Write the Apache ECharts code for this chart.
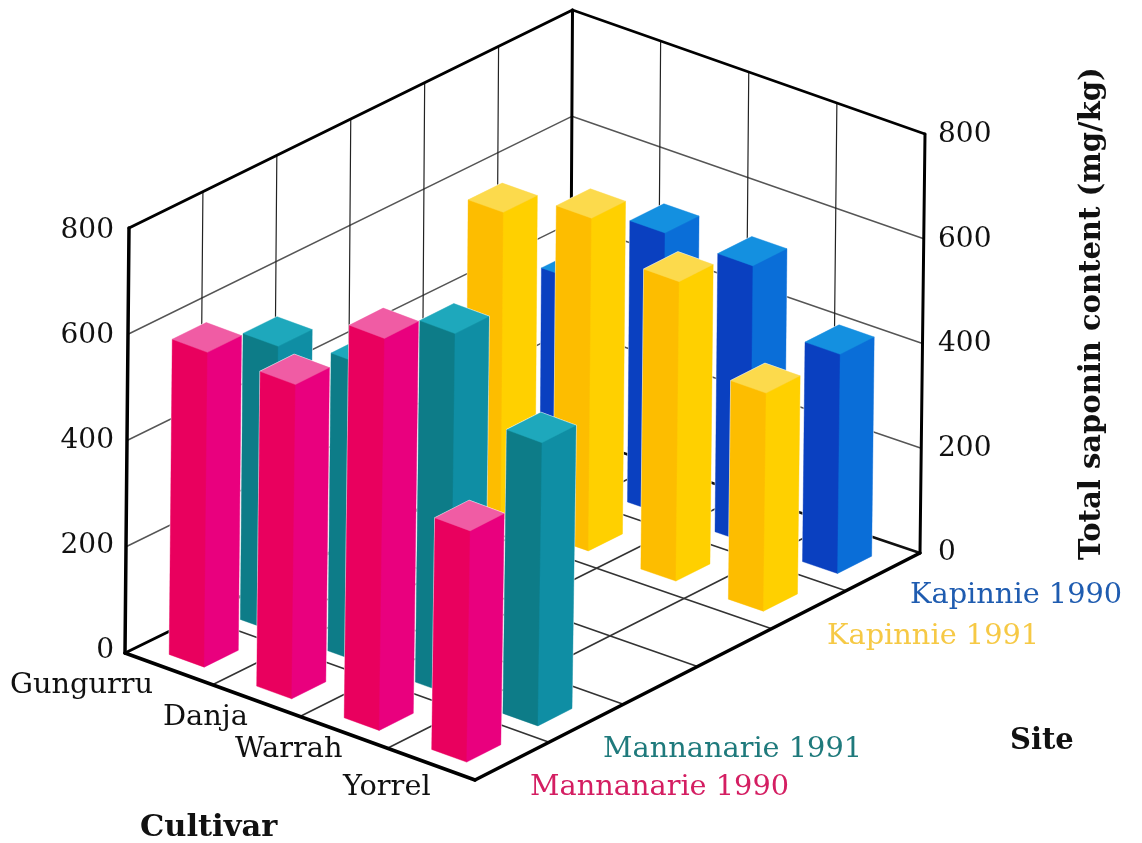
<!DOCTYPE html>
<html><head><meta charset="utf-8">
<style>html,body{margin:0;padding:0;background:#fff}#c{width:1142px;height:843px}</style>
<script src="https://cdn.jsdelivr.net/npm/echarts@6/dist/echarts.min.js"></script>
</head><body><div id="c"></div>
<script>
const cultivars = ['Gungurru','Danja','Warrah','Yorrel'];
const sites = ['Mannanarie 1990','Mannanarie 1991','Kapinnie 1991','Kapinnie 1990'];
const mannanarie1990 = [594,595,745,441];
const mannanarie1991 = [539,563,686,540];
const kapinnie1991 = [582,630,569,416];
const kapinnie1990 = [385,532,528,418];
const zTicks = [0,200,400,600,800];

const seriesValues = [mannanarie1990,mannanarie1991,kapinnie1991,kapinnie1990];
const siteSlots = [0,0.96,4,5];
const siteCells = 6;
const palette = [
  {left:'#e9005e',right:'#e9007e',top:'#f05ca4',text:'#d41e62'},
  {left:'#0d7c88',right:'#0f8ea4',top:'#1ea8bc',text:'#1f7a7c'},
  {left:'#fdbd00',right:'#ffd000',top:'#fcda4c',text:'#f6c945'},
  {left:'#0a40c0',right:'#0a6ed8',top:'#1490e0',text:'#1f5cb0'}
];
const serif = '"DejaVu Serif","Liberation Serif",serif';

function project(api,s,c,v){
  const p = api.coord([s,v]);
  const y0 = api.coord([0,0])[1];
  const rise = y0 - p[1];
  return [
    p[0] + c*87.5 + (v/800)*(4 - s*0.25 + c*0.625),
    y0 - rise*(1 - c*0.0035) - s*36.33 + c*31.75 - s*c*0.375
  ];
}
const line = (a,b,w,col) => ({type:'line',
  shape:{x1:a[0],y1:a[1],x2:b[0],y2:b[1]},
  style:{stroke:col||'#2a2a2a',lineWidth:w,lineCap:'round'}});

function renderFrame(params,api){
  const ch=[], P=(s,c,v)=>project(api,s,c,v), C=cultivars.length, S=siteCells;
  zTicks.forEach(v=>{ if(v>0 && v<800){
    ch.push(line(P(0,0,v),P(S,0,v),1.4,'#555'));
    ch.push(line(P(S,0,v),P(S,C,v),1.4,'#555'));
  }});
  for(let s=1;s<S;s++){
    ch.push(line(P(s,0,0),P(s,0,800),1.2,'#222'));
    ch.push(line(P(s,0,0),P(s,C,0),1.6,'#333'));
  }
  for(let c=1;c<C;c++){
    ch.push(line(P(S,c,0),P(S,c,800),1.2,'#222'));
    ch.push(line(P(0,c,0),P(S,c,0),1.6,'#333'));
  }
  ch.push(line(P(S,0,0),P(S,C,0),2.6,'#111'));
  ch.push(line(P(0,0,0),P(S,0,0),3,'#000'));
  ch.push(line(P(0,0,0),P(0,C,0),3.5,'#000'));
  ch.push(line(P(0,C,0),P(S,C,0),3.5,'#000'));
  ch.push(line(P(0,0,0),P(0,0,800),3.5,'#000'));
  ch.push(line(P(S,0,0),P(S,0,800),3,'#000'));
  ch.push(line(P(S,C,0),P(S,C,800),3,'#000'));
  ch.push(line(P(0,0,800),P(S,0,800),3,'#000'));
  ch.push(line(P(S,0,800),P(S,C,800),2.6,'#000'));
  return {type:'group',children:ch};
}

function renderBar(params,api){
  const si=api.value(0), ci=api.value(1), v=api.value(2), col=palette[si];
  const s0=siteSlots[si]+0.23, s1=s0+0.46, c1=ci+1-0.29, c0=c1-0.40;
  const P=(s,c,h)=>project(api,s,c,h);
  const F0=P(s0,c1,0),L0=P(s0,c0,0),R0=P(s1,c1,0);
  const Ft=P(s0,c1,v),Lt=P(s0,c0,v),Rt=P(s1,c1,v),Bt=P(s1,c0,v);
  const poly=(pts,fill,stroke)=>({type:'polygon',shape:{points:pts},
    style:{fill:fill,stroke:stroke||fill,lineWidth:stroke?1.6:0.4,lineJoin:'round'}});
  return {type:'group',children:[
    poly([L0,F0,R0,Rt,Bt,Lt],col.left,'rgba(255,255,255,0.8)'),
    poly([L0,F0,Ft,Lt],col.left),
    poly([F0,R0,Rt,Ft],col.right),
    poly([Ft,Lt,Bt,Rt],col.top)
  ]};
}

const barData=[];
seriesValues.forEach((vals,si)=>vals.forEach((v,ci)=>barData.push([si,ci,v])));
barData.sort((a,b)=>(a[1]-siteSlots[a[0]])-(b[1]-siteSlots[b[0]]));

const txt=(t,x,y,fill,size,weight,extra)=>Object.assign({type:'text',x:x,y:y,z:10,silent:true,
  style:{text:t,fill:fill,font:(weight||'normal')+' '+size+'px '+serif,verticalAlign:'bottom'}},extra||{});
const fsCat=28.8, fsBold=29, descent=7;
const graphicEls=[
  txt(cultivars[0],10,693+descent,'#111',fsCat),
  txt(cultivars[1],163,725+descent,'#111',fsCat),
  txt(cultivars[2],235,757+descent,'#111',fsCat),
  txt(cultivars[3],343,795+descent,'#111',fsCat),
  txt('Cultivar',140,837+descent,'#111',30.5,'bold'),
  txt(sites[0],530,795+descent,palette[0].text,fsCat),
  txt(sites[1],603,757+descent,palette[1].text,fsCat),
  txt(sites[2],827,644+descent,palette[2].text,fsCat),
  txt(sites[3],910,603+descent,palette[3].text,fsCat),
  txt('Site',1010,749+descent,'#111',fsBold,'bold'),
  txt('Total saponin content (mg/kg)',1100+descent,560,'#111',fsBold,'bold',{rotation:Math.PI/2})
];

const labelAxis=(gi,pos,margin)=>({type:'value',gridIndex:gi,position:pos,min:0,max:800,interval:200,
  axisLine:{show:false},axisTick:{show:false},splitLine:{show:false},
  axisLabel:{show:true,margin:margin,fontFamily:serif,fontSize:28,color:'#111',
    formatter:v=>zTicks.includes(v)?String(v):''}});
const hiddenX=gi=>({type:'value',gridIndex:gi,min:0,max:1,show:false});

const chart=echarts.init(document.getElementById('c'),null,{renderer:'canvas'});
chart.setOption({
  animation:false,
  backgroundColor:'#fff',
  grid:[
    {left:125,top:228,width:445,height:425},
    {left:125,top:231,width:10,height:420},
    {left:915,top:135,width:10,height:418}
  ],
  xAxis:[
    {type:'value',gridIndex:0,min:0,max:siteCells,show:false},
    hiddenX(1),hiddenX(2)
  ],
  yAxis:[
    {type:'value',gridIndex:0,min:0,max:800,show:false},
    labelAxis(1,'left',11),
    labelAxis(2,'right',13)
  ],
  graphic:{elements:graphicEls},
  series:[
    {type:'custom',name:'frame',xAxisIndex:0,yAxisIndex:0,z:1,clip:false,silent:true,
     data:[[0,0]],renderItem:renderFrame},
    {type:'custom',name:'bars',xAxisIndex:0,yAxisIndex:0,z:2,clip:false,silent:true,
     encode:{x:0,y:2},data:barData,renderItem:renderBar}
  ]
});
</script></body></html>
